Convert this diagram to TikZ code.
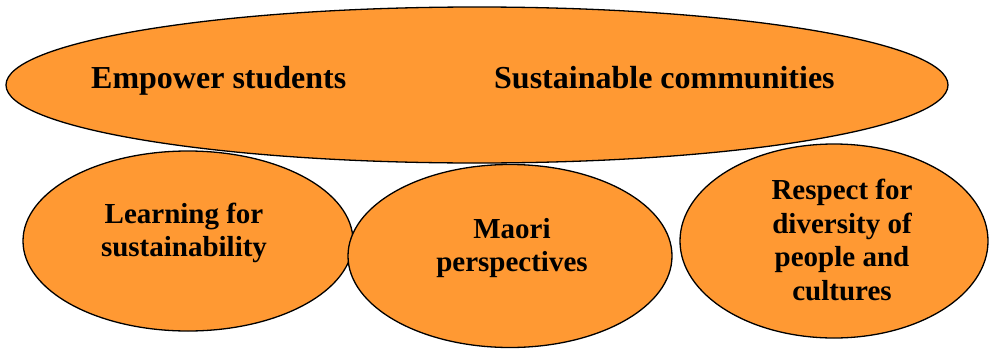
\documentclass[tikz,border=0pt]{standalone}
\usepackage{fontspec}
\setmainfont{Liberation Serif}
\usetikzlibrary{shapes.geometric}
\definecolor{blobfill}{HTML}{FF9933}
\begin{document}
\begin{tikzpicture}[x=1pt,y=-1pt,
  blob/.style={ellipse, draw=black, line width=1.3pt, fill=blobfill, inner sep=0pt},
  bigtext/.style={font=\fontsize{32}{38}\selectfont\bfseries, inner sep=0pt},
  smalltext/.style={font=\fontsize{29}{33.5}\selectfont\bfseries, align=center, inner sep=0pt}]
\useasboundingbox (0,0) rectangle (990,351);
\node[blob, minimum width=942pt, minimum height=156pt] (top) at (477,85) {};
\node[blob, minimum width=330pt, minimum height=180pt] (e1) at (188,241) {};
\node[blob, minimum width=324pt, minimum height=183pt] (e2) at (510,256) {};
\node[blob, minimum width=308pt, minimum height=194pt] (e3) at (834,241) {};
\node[bigtext, anchor=base west] (t1) at (91,88) {Empower students};
\node[bigtext, anchor=base west] (t2) at (494,88) {Sustainable communities};
\node[smalltext] (l1) at (184,233) {Learning for\\sustainability};
\node[smalltext] (l2) at (512,248) {Maori\\perspectives};
\node[smalltext] (l3) at (842,240) {Respect for\\diversity of\\people and\\cultures};
\end{tikzpicture}
\end{document}
